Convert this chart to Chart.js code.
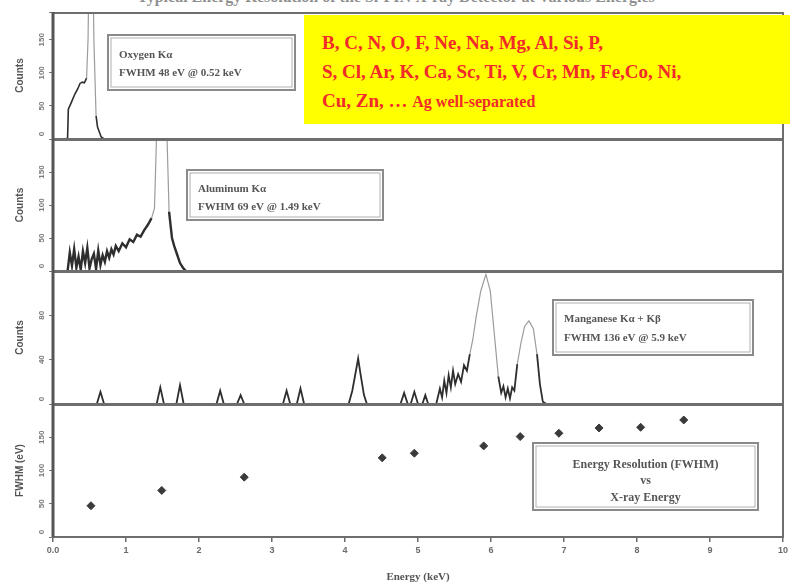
<!DOCTYPE html>
<html>
<head>
<meta charset="utf-8">
<script src="https://cdn.jsdelivr.net/npm/chart.js@4.4.0/dist/chart.umd.min.js"></script>
<style>
body{margin:0;background:#fff;width:792px;height:588px;overflow:hidden;position:relative;font-family:"Liberation Serif",serif}
canvas{position:absolute;left:0}
#title{position:absolute;left:0;width:792px;top:-12px;text-align:center;font-size:16px;font-weight:bold;color:#909090;white-space:nowrap}
#yellow{position:absolute;left:304px;top:15px;width:486px;height:109px;background:#ffff00;color:#f22a2a;font-weight:bold;font-size:19px;line-height:29px;box-sizing:border-box;padding:13px 0 0 18px;white-space:nowrap;z-index:5}
#yellow .small{font-size:16px}
</style>
</head>
<body>
<div id="title">Typical Energy Resolution of the Si-PIN X-ray Detector at Various Energies</div>
<canvas id="p1" width="792" height="127" style="top:12px"></canvas>
<canvas id="p2" width="792" height="132" style="top:139px"></canvas>
<canvas id="p3" width="792" height="133" style="top:271px"></canvas>
<canvas id="p4" width="792" height="184" style="top:404px"></canvas>
<div id="yellow">B, C, N, O, F, Ne, Na, Mg, Al, Si, P,<br>S, Cl, Ar, K, Ca, Sc, Ti, V, Cr, Mn, Fe,Co, Ni,<br>Cu, Zn, … <span class="small">Ag well-separated</span></div>
<script>
// oxygen K-alpha spectrum (keV, counts)
const oxyE = [0.18, 0.2, 0.21, 0.25, 0.3, 0.34, 0.37, 0.4, 0.43, 0.46, 0.48, 0.5, 0.52, 0.54, 0.56, 0.59, 0.61, 0.63, 0.66, 0.7];
const oxyCounts = [0, 2, 45, 55, 68, 76, 84, 86, 85, 92, 150, 320, 420, 320, 150, 35, 18, 12, 3, 0];

// aluminum K-alpha spectrum
const alE = [0.2, 0.23, 0.26, 0.29, 0.32, 0.35, 0.38, 0.41, 0.44, 0.47, 0.5, 0.53, 0.56, 0.59, 0.62, 0.65, 0.68, 0.71, 0.74, 0.77, 0.8, 0.83, 0.86, 0.9, 0.95, 1.0, 1.05, 1.1, 1.15, 1.2, 1.25, 1.3, 1.35, 1.39, 1.43, 1.46, 1.49, 1.52, 1.55, 1.59, 1.63, 1.66, 1.7, 1.74, 1.78, 1.82];
const alCounts = [0, 28, 8, 33, 5, 22, 2, 30, 12, 35, 4, 18, 26, 3, 31, 9, 24, 14, 30, 20, 33, 25, 38, 30, 42, 36, 48, 44, 55, 52, 62, 70, 80, 95, 250, 400, 420, 400, 250, 90, 50, 38, 25, 12, 5, 0];

// manganese K-alpha + K-beta spectrum
const mnE = [0, 0.6, 0.65, 0.7, 1.42, 1.47, 1.52, 1.69, 1.74, 1.79, 2.24, 2.29, 2.34, 2.52, 2.57, 2.62, 3.15, 3.2, 3.25, 3.34, 3.39, 3.44,
  4.05, 4.1, 4.15, 4.18, 4.21, 4.26, 4.3, 4.76, 4.81, 4.86, 4.9, 4.95, 5.0, 5.06, 5.1, 5.14,
  5.25, 5.3, 5.33, 5.36, 5.39, 5.42, 5.45, 5.48, 5.51, 5.55, 5.59, 5.63, 5.67, 5.71, 5.75, 5.8, 5.86, 5.93, 5.99, 6.05, 6.1,
  6.14, 6.17, 6.2, 6.23, 6.26, 6.29, 6.32, 6.36, 6.41, 6.46, 6.52, 6.58, 6.63, 6.67, 6.71, 6.76, 10];
const mnCounts = [0, 0, 11, 0, 0, 15, 0, 0, 17, 0, 0, 12, 0, 0, 8, 0, 0, 12, 0, 0, 14, 0,
  0, 12, 30, 41, 28, 8, 0, 0, 10, 0, 0, 11, 0, 0, 8, 0,
  0, 14, 6, 21, 10, 26, 15, 30, 18, 27, 20, 35, 30, 45, 58, 80, 102, 117, 102, 60, 25,
  10, 16, 6, 14, 5, 15, 12, 36, 55, 70, 75, 68, 45, 18, 2, 0, 0];

// energy resolution vs x-ray energy
const resE = [0.52, 1.49, 2.62, 4.51, 4.95, 5.9, 6.4, 6.93, 7.48, 8.05, 8.64];
const resFwhm = [47, 70, 90, 119, 126, 137, 151, 156, 164, 165, 176];

const xTicks = [0, 1, 2, 3, 4, 5, 6, 7, 8, 9, 10];

function pts(xs, ys){
    return xs.map((x, i) => ({x: x, y: ys[i]}));
}

// khung + nhan truc y xoay doc + hop chu thich
const panelDeco = {
    id: 'panelDeco',
    afterDraw(chart, args, opts){
        const ctx = chart.ctx;
        const a = chart.chartArea;
        const s = chart.scales.y;
        ctx.save();
        // y tick labels, rotated
        ctx.fillStyle = '#7a7a7a';
        ctx.font = 'bold 8px "Liberation Sans"';
        ctx.textAlign = 'center';
        ctx.textBaseline = 'middle';
        s.ticks.forEach(t => {
            if (t.value % opts.step !== 0 || t.value >= s.max) return;
            const py = Math.min(s.getPixelForValue(t.value), a.bottom - 5);
            ctx.save();
            ctx.translate(42, py);
            ctx.rotate(-Math.PI / 2);
            ctx.fillText(String(t.value), 0, 0);
            ctx.restore();
        });
        // frame
        ctx.strokeStyle = '#6e6e6e';
        ctx.lineWidth = 2;
        ctx.strokeRect(a.left, a.top + 1, a.right - a.left, a.bottom - a.top - 1);
        ctx.strokeStyle = '#555';
        ctx.lineWidth = 3;
        ctx.beginPath();
        ctx.moveTo(a.left, 0);
        ctx.lineTo(a.left, a.bottom);
        ctx.stroke();
        // text box
        const b = opts.box;
        if (b){
            ctx.fillStyle = '#fff';
            ctx.fillRect(b.x, b.y, b.w, b.h);
            ctx.strokeStyle = '#8a8a8a';
            ctx.lineWidth = 2;
            ctx.strokeRect(b.x, b.y, b.w, b.h);
            ctx.lineWidth = 1;
            ctx.strokeStyle = '#b0b0b0';
            ctx.strokeRect(b.x + 3, b.y + 3, b.w - 6, b.h - 6);
            ctx.fillStyle = '#555';
            ctx.font = b.font;
            ctx.textAlign = b.align;
            b.lines.forEach((ln, i) => {
                const tx = b.align === 'center' ? b.x + b.w / 2 : b.x + 11;
                ctx.fillText(ln, tx, b.ly[i]);
            });
        }
        ctx.restore();
    }
};

// doan dinh nhat mau xam, doan nen dam mau
function segColor(limit){
    return ctx => Math.max(ctx.p0.parsed.y, ctx.p1.parsed.y) > limit ? '#9c9c9c' : '#2e2e2e';
}
function segWidth(limit, thin, thick){
    return ctx => Math.max(ctx.p0.parsed.y, ctx.p1.parsed.y) > limit ? thin : thick;
}

function makePanel(id, datasets, yMax, step, yTitle, box, showX){
    const config = {
        type: 'line',
        data: {datasets: datasets},
        options: {
            responsive: false,
            animation: false,
            layout: {autoPadding: false, padding: {left: 0, right: 9, top: 0, bottom: 0}},
            plugins: {
                legend: {display: false},
                tooltip: {enabled: false},
                panelDeco: {step: step, box: box}
            },
            scales: {
                x: {
                    type: 'linear', min: 0, max: 10,
                    display: showX,
                    afterBuildTicks: sc => { sc.ticks = xTicks.map(v => ({value: v})); },
                    afterFit: sc => { sc.height = showX ? 51 : 0; },
                    ticks: {
                        color: '#6a6a6a', padding: 3, maxRotation: 0,
                        font: {size: 9, weight: 'bold', family: '"Liberation Sans"'},
                        callback: v => v === 0 ? '0.0' : String(v)
                    },
                    grid: {drawOnChartArea: false, tickLength: 5, color: '#6a6a6a', lineWidth: 1.5},
                    border: {display: false},
                    title: {
                        display: true, text: 'Energy (keV)', color: '#555',
                        font: {size: 11, weight: 'bold', family: '"Liberation Serif"'},
                        padding: {top: 0, bottom: 4}
                    }
                },
                y: {
                    min: 0, max: yMax,
                    afterFit: sc => { sc.width = 53; },
                    ticks: {stepSize: step, display: false},
                    grid: {drawOnChartArea: false, tickLength: 4, color: '#777'},
                    border: {display: false},
                    title: {
                        display: true, text: yTitle, color: '#555',
                        font: {size: 10, weight: 'bold', family: '"Liberation Sans"'},
                        padding: {top: 14, bottom: 0}
                    }
                }
            }
        },
        plugins: [panelDeco]
    };
    new Chart(document.getElementById(id).getContext('2d'), config);
}

makePanel('p1', [{
    data: pts(oxyE, oxyCounts), pointRadius: 0, tension: 0,
    segment: {borderColor: segColor(95), borderWidth: segWidth(95, 1.2, 1.6)}
}], 192, 50, 'Counts', {
    x: 108, y: 23, w: 187, h: 55, font: 'bold 11px "Liberation Serif"', align: 'left',
    lines: ['Oxygen K\u03b1', 'FWHM 48 eV @ 0.52 keV'], ly: [43, 61]
}, false);

makePanel('p2', [{
    data: pts(alE, alCounts), pointRadius: 0, tension: 0,
    segment: {borderColor: segColor(90), borderWidth: segWidth(90, 1.2, 2.4)}
}], 200, 50, 'Counts', {
    x: 187, y: 31, w: 196, h: 50, font: 'bold 11px "Liberation Serif"', align: 'left',
    lines: ['Aluminum K\u03b1', 'FWHM 69 eV @ 1.49 keV'], ly: [50, 68]
}, false);

makePanel('p3', [{
    data: pts(mnE, mnCounts), pointRadius: 0, tension: 0,
    segment: {borderColor: segColor(50), borderWidth: segWidth(50, 1.2, 1.8)}
}], 120, 40, 'Counts', {
    x: 553, y: 29, w: 200, h: 55, font: 'bold 11px "Liberation Serif"', align: 'left',
    lines: ['Manganese K\u03b1 + K\u03b2', 'FWHM 136 eV @ 5.9 keV'], ly: [48, 67]
}, false);

makePanel('p4', [{
    type: 'scatter',
    data: pts(resE, resFwhm), pointStyle: 'rectRot', pointRadius: 4,
    backgroundColor: '#3a3a3a', borderColor: '#3a3a3a', showLine: false
}], 200, 50, 'FWHM (eV)', {
    x: 533, y: 39, w: 225, h: 67, font: 'bold 12px "Liberation Serif"', align: 'center',
    lines: ['Energy Resolution (FWHM)', 'vs', 'X-ray Energy'], ly: [61, 77, 94]
}, true);
</script>
</body>
</html>
